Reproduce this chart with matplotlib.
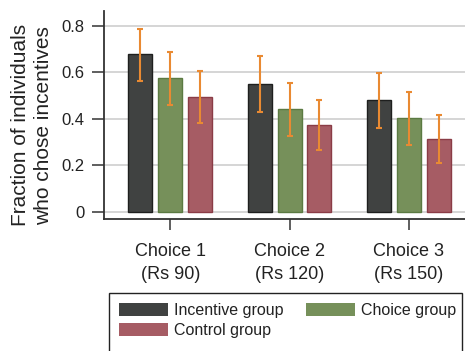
import matplotlib
matplotlib.use("Agg")
import matplotlib.pyplot as plt
from matplotlib.patches import Patch, Rectangle
import numpy as np

plt.rcParams['font.family'] = ['Liberation Sans', 'DejaVu Sans']

# Data
choices = ["Choice 1\n(Rs 90)", "Choice 2\n(Rs 120)", "Choice 3\n(Rs 150)"]
groups = ["Incentive group", "Choice group", "Control group"]
incentive = [0.678, 0.548, 0.479]
choice = [0.574, 0.441, 0.402]
control = [0.495, 0.373, 0.315]
incentive_lo = [0.564, 0.430, 0.360]
incentive_hi = [0.787, 0.668, 0.598]
choice_lo = [0.459, 0.325, 0.288]
choice_hi = [0.687, 0.555, 0.515]
control_lo = [0.383, 0.267, 0.212]
control_hi = [0.605, 0.481, 0.416]
yticks = [0, 0.2, 0.4, 0.6, 0.8]
ytick_labels = ["0", "0.2", "0.4", "0.6", "0.8"]

fills = ["#404241", "#76905a", "#a65c64"]
edges = ["#1e1f1e", "#5b7a42", "#8a3c46"]
err_color = "#e98a32"

W, H = 465, 351
fig = plt.figure(figsize=(W / 100, H / 100), dpi=100)
ax = fig.add_axes([104 / W, 1 - 219 / H, 1 - 104 / W, (219 - 11) / H])

x = np.arange(1, len(choices) + 1)
width = 0.2
offsets = [-0.25, 0.0, 0.25]
series = [(incentive, incentive_lo, incentive_hi),
          (choice, choice_lo, choice_hi),
          (control, control_lo, control_hi)]

for i, (vals, lo, hi) in enumerate(series):
    vals = np.array(vals)
    yerr = np.vstack([vals - np.array(lo), np.array(hi) - vals])
    ax.bar(x + offsets[i], vals, width, color=fills[i], edgecolor=edges[i],
           linewidth=1.0, zorder=2)
    ax.errorbar(x + offsets[i], vals, yerr=yerr, fmt='none', ecolor=err_color,
                elinewidth=1.5, capsize=2.3, capthick=1.5, zorder=3)

ax.set_xlim(0.445, 3.47)
ax.set_ylim(-0.03, 0.863)
ax.set_yticks(yticks)
ax.set_yticklabels(ytick_labels)
ax.set_xticks(x)
ax.set_xticklabels(choices, linespacing=1.5)

ax.yaxis.grid(True, color="#d2d2d2", linewidth=1.3, zorder=0)
ax.set_axisbelow(True)

for s in ["top", "right"]:
    ax.spines[s].set_visible(False)
for s in ["left", "bottom"]:
    ax.spines[s].set_color("#333333")
    ax.spines[s].set_linewidth(1.3)

ax.tick_params(axis='y', length=9, width=1.1, color="#333333", pad=5,
               labelsize=12, labelcolor="#222222")
ax.tick_params(axis='x', length=8, width=1.1, color="#333333", pad=9,
               labelsize=13, labelcolor="#222222")

ax.set_ylabel("Fraction of individuals\nwho chose incentives", fontsize=15,
              color="#222222", linespacing=1.3)
ax.yaxis.set_label_coords(-0.14, 0.45)

# Legend: two columns, row-wise order Incentive, Choice / Control
handles = [Patch(facecolor=fills[0], edgecolor='none'),
           Patch(facecolor=fills[2], edgecolor='none'),
           Patch(facecolor=fills[1], edgecolor='none')]
labels = [groups[0], groups[2], groups[1]]
leg = fig.legend(handles, labels, loc='upper left',
                 bbox_to_anchor=(109 / W, 1 - 293 / H),
                 bbox_transform=fig.transFigure, ncol=2, frameon=False,
                 fontsize=11.5, handlelength=3.1, handleheight=0.9,
                 handletextpad=0.35, columnspacing=1.4,
                 labelspacing=0.3, borderpad=0.6, borderaxespad=0)
for t in leg.get_texts():
    t.set_color("#222222")

# Legend frame running past the lower edge of the figure
fig.add_artist(Rectangle((109 / W, -0.05), (462 - 109) / W, 0.05 + (H - 293) / H,
                         transform=fig.transFigure, facecolor='none',
                         edgecolor="#222222", linewidth=1.0, clip_on=False))

fig.savefig("out.png", dpi=100)
